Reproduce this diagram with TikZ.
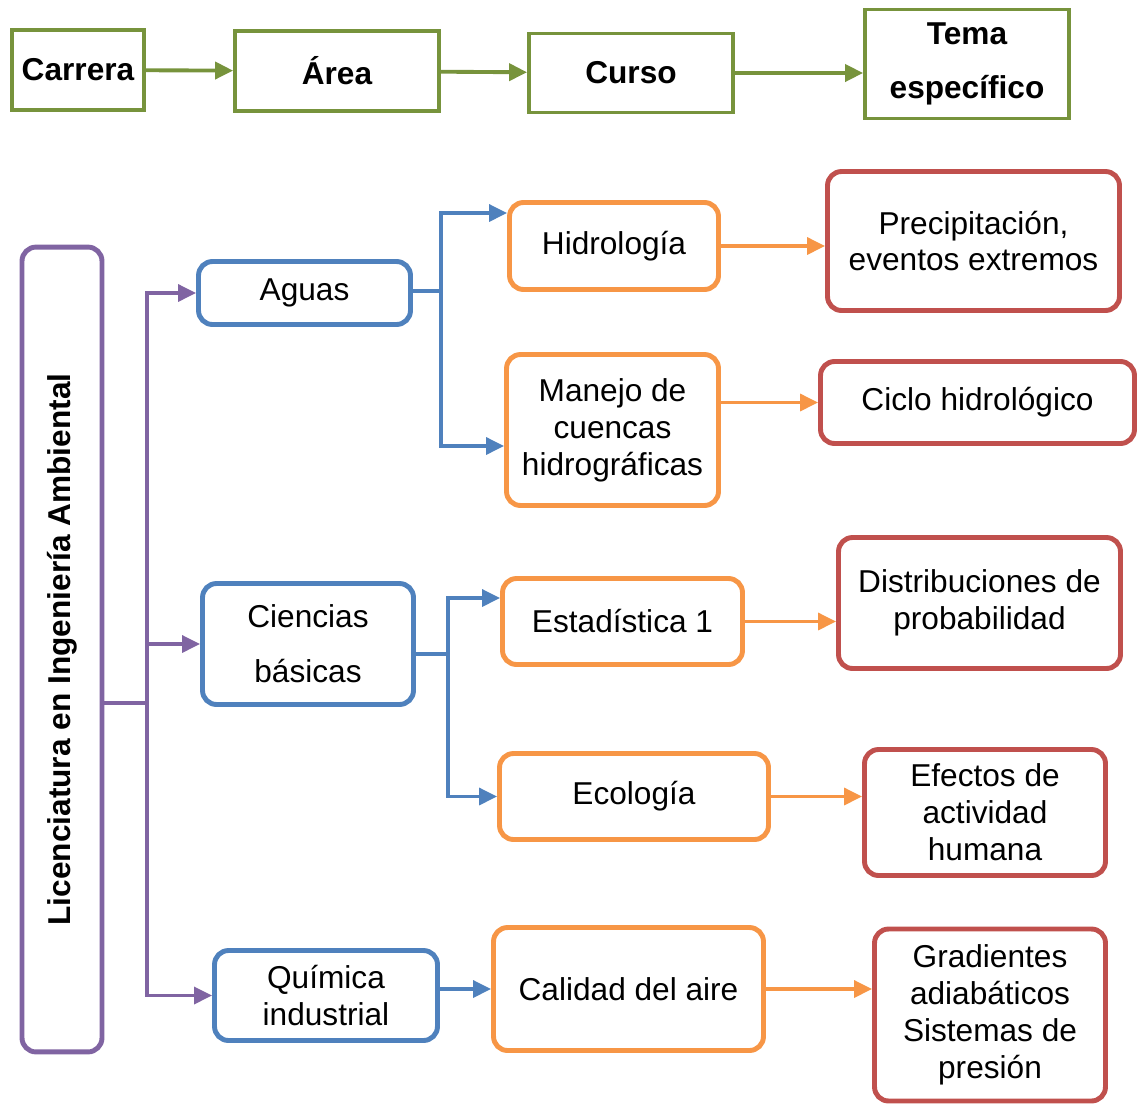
\documentclass[tikz,border=0pt]{standalone}
\usepackage{fontspec}
\setmainfont{Liberation Sans}
\usepackage{tikz}
\usetikzlibrary{arrows.meta}

\definecolor{verde}{RGB}{119,147,60}
\definecolor{azul}{RGB}{79,129,189}
\definecolor{naranja}{RGB}{247,150,70}
\definecolor{rojo}{RGB}{192,80,77}
\definecolor{morado}{RGB}{128,100,162}

\begin{document}
\begin{tikzpicture}[x=0.02cm, y=-0.02cm,
    every node/.style={font=\fontsize{18}{21}\selectfont, align=center, inner sep=0pt},
    cabeza/.style={draw=verde, line width=2.2pt, font=\fontsize{18}{21}\selectfont\bfseries},
    caja/.style={draw=#1, line width=2.8pt, rounded corners=0.28cm},
    flecha/.style={draw=#1, line width=1.9pt, -{Triangle[length=0.36cm,width=0.34cm]}},
    linea/.style={draw=#1, line width=1.9pt}]
    \useasboundingbox (0,0) rectangle (1143,1106);

    % fila de encabezado
    \node[cabeza, minimum width=2.64cm, minimum height=1.6cm] (carrera) at (78,70) {Carrera};
    \node[cabeza, minimum width=4.08cm, minimum height=1.6cm] (area) at (337,71) {Área};
    \node[cabeza, minimum width=4.08cm, minimum height=1.58cm] (curso) at (631,73) {Curso};
    \node[cabeza, minimum width=4.08cm, minimum height=2.18cm] (tema) at (967,64) {Tema\\[0.34cm]específico};
    \draw[flecha=verde, line width=2.2pt] (carrera) -- (area);
    \draw[flecha=verde, line width=2.2pt] (area) -- (curso);
    \draw[flecha=verde, line width=2.2pt] (curso.east) -- (tema.west |- curso.east);

    % carrera
    \node[caja=morado, rotate=90, minimum width=16.1cm, minimum height=1.6cm, font=\fontsize{18}{21}\selectfont\bfseries] (lic) at (62,649.5) {Licenciatura en Ingeniería Ambiental};

    % areas
    \node[caja=azul, minimum width=4.24cm, minimum height=1.26cm] (aguas) at (304.5,293) {Aguas};
    \node[caja=azul, minimum width=4.22cm, minimum height=2.42cm] (ciencias) at (308,644) {Ciencias\\[0.36cm]básicas};
    \node[caja=azul, minimum width=4.46cm, minimum height=1.8cm] (quimica) at (326,995.5) {Química\\industrial};

    % cursos
    \node[caja=naranja, minimum width=4.18cm, minimum height=1.74cm] (hidro) at (614,246) {Hidrología};
    \node[caja=naranja, minimum width=4.24cm, minimum height=3.02cm] (manejo) at (612.5,430) {Manejo de\\cuencas\\hidrográficas};
    \node[caja=naranja, minimum width=4.8cm, minimum height=1.72cm] (estad) at (622.5,621.5) {Estadística 1};
    \node[caja=naranja, minimum width=5.38cm, minimum height=1.72cm] (ecol) at (634,796.5) {Ecología};
    \node[caja=naranja, minimum width=5.4cm, minimum height=2.46cm] (calidad) at (628.5,989) {Calidad del aire};

    % temas
    \node[caja=rojo, minimum width=5.84cm, minimum height=2.78cm] (precip) at (973.5,241) {Precipitación,\\eventos extremos};
    \node[caja=rojo, minimum width=6.28cm, minimum height=1.64cm] (ciclo) at (977.5,402.5) {Ciclo hidrológico};
    \node[caja=rojo, minimum width=5.64cm, minimum height=2.62cm] (distrib) at (979.5,603) {Distribuciones de\\probabilidad};
    \node[caja=rojo, minimum width=4.82cm, minimum height=2.52cm] (efectos) at (985,812.5) {Efectos de\\actividad\\humana};
    \node[caja=rojo, minimum width=4.62cm, minimum height=3.44cm] (grad) at (990,1015) {Gradientes\\adiabáticos\\Sistemas de\\presión};

    % conectores
    \coordinate (tronco) at (147,703);
    \coordinate (bA) at (441,291);
    \coordinate (bC) at (448,654);
    \draw[linea=morado] (lic.south |- tronco) -- (tronco);
    \draw[flecha=morado] (tronco) |- (aguas.west);
    \draw[flecha=morado] (tronco) |- (ciencias.west);
    \draw[flecha=morado] (tronco) |- (quimica.west);

    \draw[linea=azul] (aguas.east |- bA) -- (bA);
    \draw[flecha=azul] (bA) |- ([yshift=0.66cm]hidro.west);
    \draw[flecha=azul] (bA) |- ([yshift=-0.32cm]manejo.west);
    \draw[linea=azul] (ciencias.east |- bC) -- (bC);
    \draw[flecha=azul] (bC) |- ([yshift=0.47cm]estad.west);
    \draw[flecha=azul] (bC) |- (ecol.west);
    \draw[flecha=azul] (quimica.east |- calidad.west) -- (calidad.west);

    \draw[flecha=naranja] (hidro.east) -- (precip.west |- hidro.east);
    \draw[flecha=naranja] (manejo.east |- ciclo.west) -- (ciclo.west);
    \draw[flecha=naranja] (estad.east) -- (distrib.west |- estad.east);
    \draw[flecha=naranja] (ecol.east) -- (efectos.west |- ecol.east);
    \draw[flecha=naranja] (calidad.east) -- (grad.west |- calidad.east);
\end{tikzpicture}
\end{document}
